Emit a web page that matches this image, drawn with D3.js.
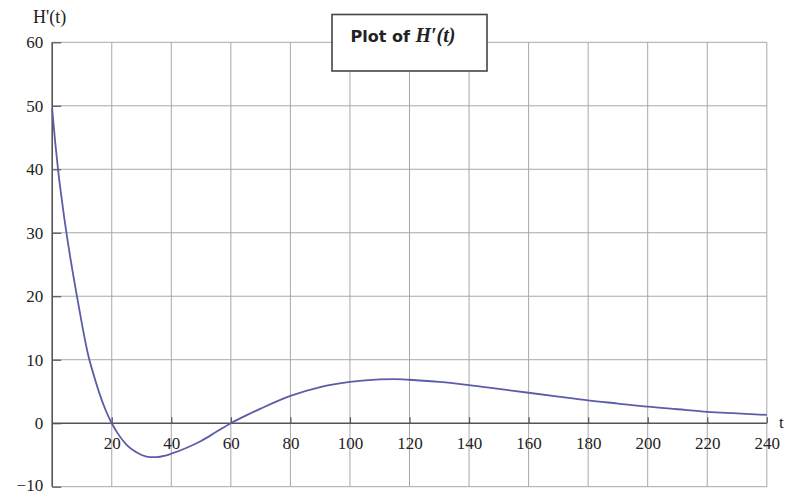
<!DOCTYPE html>
<html>
<head>
<meta charset="utf-8">
<script src="https://cdn.jsdelivr.net/npm/d3@7/dist/d3.min.js"></script>
<style>
  html, body { margin: 0; padding: 0; background: #fff; }
  svg { display: block; }
</style>
</head>
<body>
<svg id="chart" width="787" height="494"></svg>
<script>
// ---- data ----
const tValues = [0, 1, 2, 3, 4, 5, 6, 7, 8, 10, 12, 14, 16, 18, 20, 22, 25, 28, 30, 33, 35, 38, 40, 45, 50, 55, 60, 65, 70, 80, 90, 100, 110, 115, 120, 130, 140, 150, 160, 170, 180, 190, 200, 210, 220, 230, 240];
const hValues = [49.5, 44.3, 39.8, 36.0, 32.5, 29.3, 26.3, 23.5, 20.8, 15.6, 10.9, 7.5, 4.5, 2.0, 0.0, -1.6, -3.4, -4.5, -5.0, -5.35, -5.35, -5.1, -4.8, -3.9, -2.8, -1.4, 0.0, 1.2, 2.3, 4.3, 5.7, 6.5, 6.9, 6.95, 6.85, 6.5, 6.0, 5.4, 4.8, 4.2, 3.6, 3.1, 2.6, 2.2, 1.8, 1.55, 1.3];
const xTicks = [20, 40, 60, 80, 100, 120, 140, 160, 180, 200, 220, 240];
const yTicks = [-10, 0, 10, 20, 30, 40, 50, 60];
const yTickLabels = ["\u221210", "0", "10", "20", "30", "40", "50", "60"];
const titleText = "Plot of ";
const titleMath = "H\u2032(t)";
const yAxisLabel = "H'(t)";
const xAxisLabel = "t";

// ---- layout ----
const svg = d3.select("#chart");
const x = d3.scaleLinear().domain([0, 240]).range([52.2, 766.8]);
const y = d3.scaleLinear().domain([-10, 60]).range([486.7, 42.3]);

const gridColor = "#a8a8a8";
const axisColor = "#555";
const serif = "'Liberation Serif', 'Times New Roman', serif";

// vertical gridlines
svg.append("g").selectAll("line").data(xTicks).join("line")
  .attr("x1", d => x(d)).attr("x2", d => x(d))
  .attr("y1", y(60)).attr("y2", y(-10))
  .attr("stroke", gridColor).attr("stroke-width", 1);

// horizontal gridlines
svg.append("g").selectAll("line").data(yTicks.filter(d => d !== 0)).join("line")
  .attr("x1", x(0)).attr("x2", x(240))
  .attr("y1", d => y(d)).attr("y2", d => y(d))
  .attr("stroke", gridColor).attr("stroke-width", 1);

// x axis at y = 0
const xAxis = d3.axisBottom(x).tickValues(xTicks).tickSize(0).tickPadding(0).tickFormat(d3.format("d"));
const gx = svg.append("g").attr("transform", `translate(0,${y(0)})`).call(xAxis);
gx.select(".domain").attr("stroke", axisColor).attr("stroke-width", 1.6)
  .attr("d", `M${x(0)},0H${x(240)}`);
gx.selectAll(".tick text")
  .attr("font-family", serif).attr("font-size", 17).attr("fill", "#222")
  .attr("dy", null).attr("y", 26);
gx.selectAll(".tick").append("line")
  .attr("y1", -6).attr("y2", 0).attr("stroke", axisColor).attr("stroke-width", 1.2);

// y axis at t = 0
const yAxis = d3.axisLeft(y).tickValues(yTicks).tickSize(0).tickPadding(9)
  .tickFormat((d, i) => yTickLabels[i]);
const gy = svg.append("g").attr("transform", `translate(${x(0)},0)`).call(yAxis);
gy.select(".domain").attr("stroke", axisColor).attr("stroke-width", 1.6)
  .attr("d", `M0,${y(60)}V${y(-10)}`);
gy.selectAll(".tick text")
  .attr("font-family", serif).attr("font-size", 17).attr("fill", "#222")
  .attr("dy", d => d === -10 ? "0.2em" : "0.32em");
gy.selectAll(".tick").append("line")
  .attr("x1", 0).attr("x2", 9).attr("stroke", axisColor).attr("stroke-width", 1.2);

// axis labels
svg.append("text").attr("x", 33).attr("y", 23)
  .attr("font-family", serif).attr("font-size", 18).attr("fill", "#222")
  .text(yAxisLabel);
svg.append("text").attr("x", 779).attr("y", y(0) + 5)
  .attr("font-family", serif).attr("font-size", 17).attr("fill", "#222")
  .text(xAxisLabel);

// curve
const pts = tValues.map((t, i) => [t, hValues[i]]);
const line = d3.line().x(d => x(d[0])).y(d => y(d[1])).curve(d3.curveMonotoneX);
svg.append("path").datum(pts)
  .attr("d", line)
  .attr("fill", "none")
  .attr("stroke", "#5c5ca8")
  .attr("stroke-width", 1.8);

// title box
svg.append("rect")
  .attr("x", 332).attr("y", 14.5).attr("width", 155).attr("height", 56.5)
  .attr("fill", "#fff").attr("stroke", "#444").attr("stroke-width", 1.6);
const title = svg.append("text").attr("x", 403).attr("y", 42)
  .attr("text-anchor", "middle")
  .attr("font-family", "'DejaVu Sans', sans-serif")
  .attr("font-size", 16).attr("font-weight", "bold").attr("fill", "#222");
title.append("tspan").text(titleText);
title.append("tspan").attr("font-family", serif).attr("font-style", "italic")
  .attr("font-size", 20).text(titleMath);
</script>
</body>
</html>
